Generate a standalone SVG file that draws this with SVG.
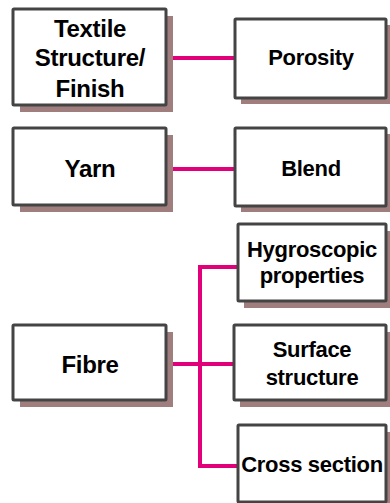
<svg xmlns="http://www.w3.org/2000/svg" width="390" height="503" viewBox="0 0 390 503">
<style>
.sh{fill:#a07e7e}
.bx{fill:#fff;stroke:#444;stroke-width:3}
.t{font-family:"Liberation Sans",Arial,sans-serif;font-weight:bold;fill:#000;text-anchor:middle;letter-spacing:-0.3px}
.l{font-size:24px}
.r{font-size:22px}
.c{fill:none;stroke:#e2007a;stroke-width:4}
</style>
<rect width="390" height="503" fill="#fff"/>
<g id="connectors">
<line class="c" x1="166" y1="58" x2="236" y2="58"/>
<line class="c" x1="166" y1="169" x2="236" y2="169"/>
<line class="c" x1="166" y1="364" x2="235" y2="364"/>
<polyline class="c" points="239,267 200,267 200,466 239,466"/>
</g>
<g id="textile">
<rect class="sh" x="20" y="16" width="153" height="96"/>
<rect class="bx" x="13" y="9" width="153" height="96" rx="1"/>
<text class="t l" x="90" y="37">Textile</text>
<text class="t l" x="90" y="66">Structure/</text>
<text class="t l" x="90" y="97">Finish</text>
</g>
<g id="porosity">
<rect class="sh" x="241" y="25" width="151" height="79"/>
<rect class="bx" x="235" y="19" width="151" height="79" rx="1"/>
<text class="t r" x="311" y="65">Porosity</text>
</g>
<g id="yarn">
<rect class="sh" x="20" y="135" width="153" height="77"/>
<rect class="bx" x="13" y="128" width="153" height="77" rx="1"/>
<text class="t l" x="90" y="177">Yarn</text>
</g>
<g id="blend">
<rect class="sh" x="241" y="134" width="151" height="78"/>
<rect class="bx" x="235" y="128" width="151" height="78" rx="1"/>
<text class="t r" x="311" y="176">Blend</text>
</g>
<g id="hygroscopic">
<rect class="sh" x="244" y="231" width="148" height="77"/>
<rect class="bx" x="238" y="224" width="148" height="77" rx="1"/>
<text class="t r" x="312" y="257">Hygroscopic</text>
<text class="t r" x="312" y="283">properties</text>
</g>
<g id="fibre">
<rect class="sh" x="20" y="332" width="153" height="75"/>
<rect class="bx" x="13" y="325" width="153" height="75" rx="1"/>
<text class="t l" x="90" y="373">Fibre</text>
</g>
<g id="surface">
<rect class="sh" x="240" y="332" width="152" height="75"/>
<rect class="bx" x="234" y="325" width="152" height="75" rx="1"/>
<text class="t r" x="312" y="357">Surface</text>
<text class="t r" x="312" y="385">structure</text>
</g>
<g id="cross">
<rect class="sh" x="244" y="432" width="148" height="77"/>
<rect class="bx" x="238" y="425" width="148" height="77" rx="1"/>
<text class="t r" x="312" y="472">Cross section</text>
</g>
</svg>
